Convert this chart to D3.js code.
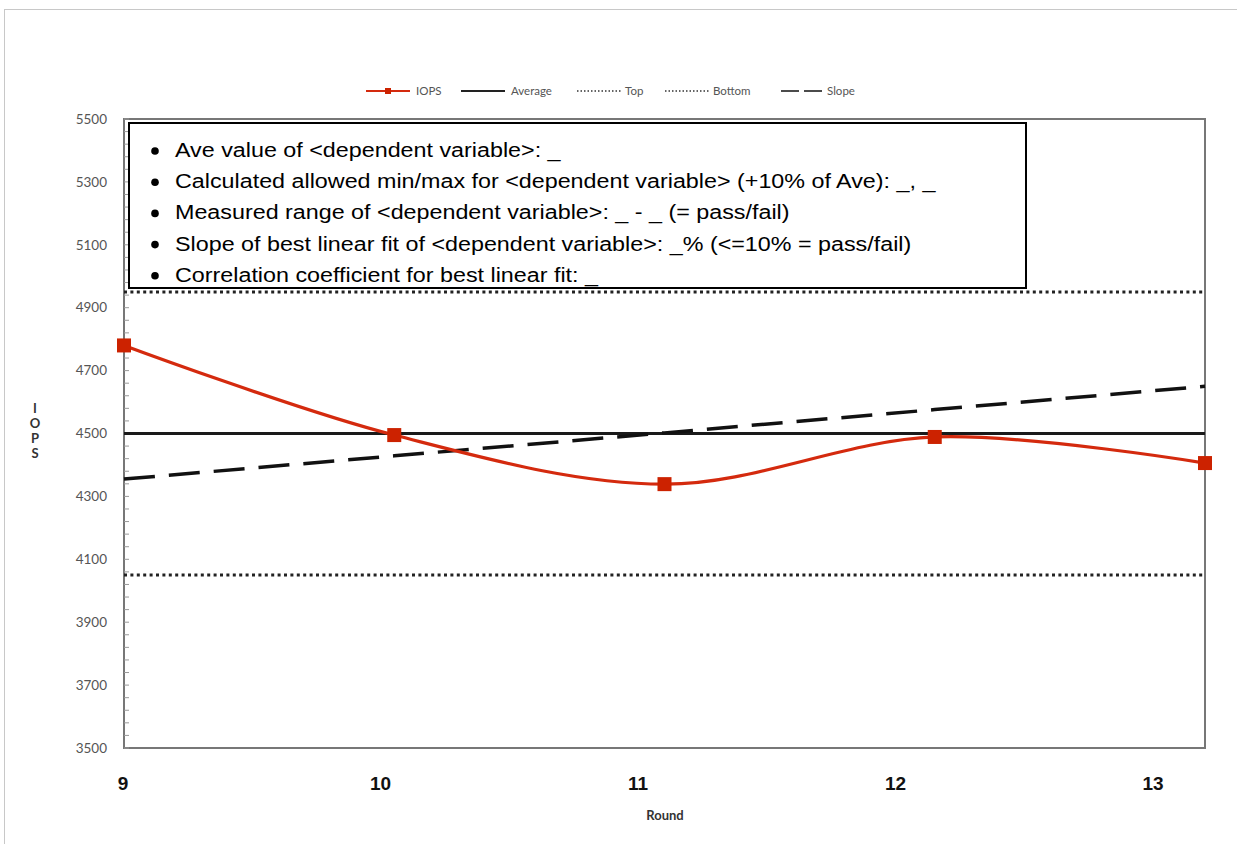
<!DOCTYPE html>
<html>
<head>
<meta charset="utf-8">
<script src="https://cdn.jsdelivr.net/npm/d3@7"></script>
<style>
  body { margin: 0; background: #fff; }
  svg { display: block; }
</style>
</head>
<body>
<svg id="chart" width="1237" height="844"></svg>
<script>
// data
const rounds = [9, 10, 11, 12, 13];
const iops = [4780, 4495, 4339, 4489, 4406];
const average = [4500, 4500, 4500, 4500, 4500];
const top_ = [4950, 4950, 4950, 4950, 4950];
const bottom = [4050, 4050, 4050, 4050, 4050];
const slope = [4355, 4429, 4502, 4576, 4650];
const yTicks = [3500, 3700, 3900, 4100, 4300, 4500, 4700, 4900, 5100, 5300, 5500];
const notes = [
  "Ave value of <dependent variable>: _",
  "Calculated allowed min/max for <dependent variable> (+10% of Ave): _, _",
  "Measured range of <dependent variable>: _ - _ (= pass/fail)",
  "Slope of best linear fit of <dependent variable>: _% (<=10% = pass/fail)",
  "Correlation coefficient for best linear fit: _"
];
const yTitle = ["I", "O", "P", "S"];

const svg = d3.select("#chart");
const plot = {left: 124, right: 1205, top: 119, bottom: 748};

let x = d3.scaleLinear().domain([9, 13]).range([plot.left, plot.right]);
let xLab = d3.scaleLinear().domain([9, 13]).range([123, 1153]);
let y = d3.scaleLinear().domain([3500, 5500]).range([plot.bottom, plot.top]);

// chart area border
svg.append("rect")
  .attr("x", 4.5).attr("y", 9.5)
  .attr("width", 1250).attr("height", 850)
  .attr("fill", "none")
  .attr("stroke", "#c8c8c8");

// plot frame
svg.append("rect")
  .attr("x", plot.left).attr("y", plot.top)
  .attr("width", plot.right - plot.left)
  .attr("height", plot.bottom - plot.top)
  .attr("fill", "none")
  .attr("stroke", "#777")
  .attr("stroke-width", 2);

// y axis
let yAxis = svg.append("g")
  .attr("transform", "translate(" + plot.left + ",0)");

yAxis.selectAll(".minor")
  .data(d3.range(3500, 5501, 40))
  .enter().append("line")
  .attr("x1", 0).attr("x2", 5)
  .attr("y1", d => y(d)).attr("y2", d => y(d))
  .attr("stroke", "#999")
  .attr("stroke-width", 1);

yAxis.selectAll(".lab")
  .data(yTicks)
  .enter().append("text")
  .attr("x", -17)
  .attr("y", d => y(d))
  .attr("dy", "0.35em")
  .attr("text-anchor", "end")
  .style("font-family", "Lato, 'Open Sans', sans-serif")
  .style("font-size", "13.5px")
  .style("fill", "#555")
  .text(d => d);

// x labels
svg.selectAll(".xlab")
  .data(rounds)
  .enter().append("text")
  .attr("x", d => xLab(d))
  .attr("y", 790)
  .attr("text-anchor", "middle")
  .style("font-family", "Arial, 'Liberation Sans', sans-serif")
  .style("font-weight", "bold")
  .style("font-size", "19px")
  .style("fill", "#111")
  .text(d => d);

svg.append("text")
  .attr("x", 665).attr("y", 820)
  .attr("text-anchor", "middle")
  .style("font-family", "Lato, 'Open Sans', sans-serif")
  .style("font-weight", "bold")
  .style("font-size", "13px")
  .style("fill", "#333")
  .text("Round");

// stacked y title (upright vertical text)
svg.append("text")
  .attr("x", 35).attr("y", 430)
  .attr("text-anchor", "middle")
  .style("writing-mode", "vertical-rl")
  .style("text-orientation", "upright")
  .style("letter-spacing", "-1px")
  .style("font-family", "Lato, 'Open Sans', sans-serif")
  .style("font-weight", "bold")
  .style("font-size", "13px")
  .style("fill", "#333")
  .text(yTitle.join(""));

// lines
let flat = d3.line()
  .x((d, i) => x(rounds[i]))
  .y(d => y(d));

svg.append("path").datum(top_)
  .attr("d", flat).attr("fill", "none")
  .attr("stroke", "#222").attr("stroke-width", 3)
  .attr("stroke-dasharray", "3,3.4");

svg.append("path").datum(bottom)
  .attr("d", flat).attr("fill", "none")
  .attr("stroke", "#222").attr("stroke-width", 3)
  .attr("stroke-dasharray", "3,3.4");

svg.append("path").datum(average)
  .attr("d", flat).attr("fill", "none")
  .attr("stroke", "#1a1a1a").attr("stroke-width", 3);

svg.append("path").datum(slope)
  .attr("d", flat).attr("fill", "none")
  .attr("stroke", "#111").attr("stroke-width", 3.5)
  .attr("stroke-dasharray", "31,14");

let smooth = d3.line()
  .x((d, i) => x(rounds[i]))
  .y(d => y(d))
  .curve(d3.curveCatmullRom.alpha(0.5));

svg.append("path").datum(iops)
  .attr("d", smooth).attr("fill", "none")
  .attr("stroke", "#d42a0e").attr("stroke-width", 3.2);

svg.selectAll(".pt")
  .data(iops)
  .enter().append("rect")
  .attr("x", (d, i) => x(rounds[i]) - 7)
  .attr("y", d => y(d) - 7)
  .attr("width", 14).attr("height", 14)
  .attr("fill", "#cc2200");

// text box
svg.append("rect")
  .attr("x", 129).attr("y", 123)
  .attr("width", 897).attr("height", 165)
  .attr("fill", "#fff")
  .attr("stroke", "#000")
  .attr("stroke-width", 2);

let note = svg.selectAll(".note")
  .data(notes)
  .enter().append("g")
  .attr("transform", (d, i) => "translate(0," + (150 + i * 31.2) + ")");

note.append("circle")
  .attr("cx", 155).attr("cy", 1).attr("r", 3.8)
  .attr("fill", "#000");

note.append("text")
  .attr("transform", "translate(175,0) scale(1.11,1)")
  .attr("dy", "0.33em")
  .style("font-family", "Arial, 'Liberation Sans', sans-serif")
  .style("font-size", "21px")
  .style("fill", "#000")
  .text(d => d);

// legend
const legend = [
  {name: "IOPS", x: 366, dash: null, color: "#d42a0e", marker: true},
  {name: "Average", x: 461, dash: null, color: "#222"},
  {name: "Top", x: 577, dash: "1.5,2", color: "#333"},
  {name: "Bottom", x: 665, dash: "1.5,2", color: "#333"},
  {name: "Slope", x: 781, dash: "18,5", color: "#111"}
];

let lg = svg.selectAll(".lg")
  .data(legend)
  .enter().append("g")
  .attr("transform", d => "translate(" + d.x + ",91)");

lg.append("line")
  .attr("x1", 0).attr("x2", d => d.name == "Slope" ? 42 : 44)
  .attr("stroke", d => d.color)
  .attr("stroke-width", d => d.dash && d.dash[0] == "1" ? 1.5 : 2.2)
  .attr("stroke-dasharray", d => d.dash);

lg.filter(d => d.marker).append("rect")
  .attr("x", 19).attr("y", -3).attr("width", 6).attr("height", 6)
  .attr("fill", "#cc2200");

lg.append("text")
  .attr("x", d => d.name == "Slope" ? 46 : (d.name == "Top" || d.name == "Bottom" ? 48 : 50))
  .attr("dy", "0.35em")
  .style("font-family", "Lato, 'Open Sans', sans-serif")
  .style("font-size", "11.5px")
  .style("fill", "#555")
  .text(d => d.name);
</script>
</body>
</html>
